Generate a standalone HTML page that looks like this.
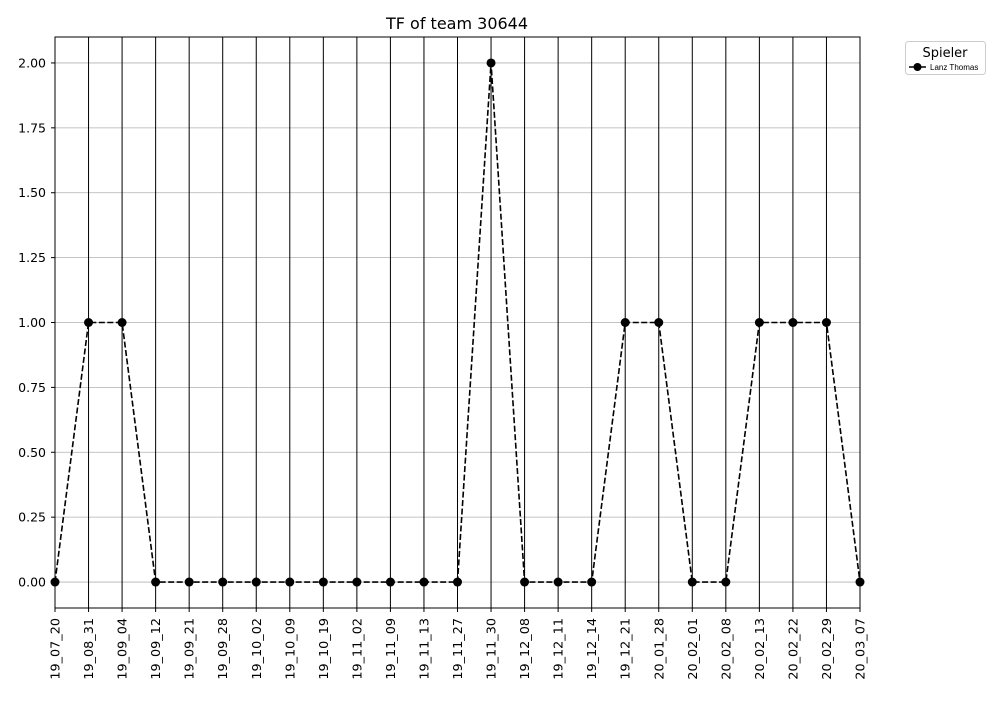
<!DOCTYPE html>
<html><head><meta charset="utf-8"><style>body{margin:0;background:#fff}svg{font-family:"DejaVu Sans","Liberation Sans",sans-serif}</style></head>
<body>
<svg id="c" width="1000" height="700" xmlns="http://www.w3.org/2000/svg"></svg>
<script>
const categories=["19_07_20","19_08_31","19_09_04","19_09_12","19_09_21","19_09_28","19_10_02","19_10_09","19_10_19","19_11_02","19_11_09","19_11_13","19_11_27","19_11_30","19_12_08","19_12_11","19_12_14","19_12_21","20_01_28","20_02_01","20_02_08","20_02_13","20_02_22","20_02_29","20_03_07"];
const values=[0,1,1,0,0,0,0,0,0,0,0,0,0,2,0,0,0,1,1,0,0,1,1,1,0];
const yTicks=[0,0.25,0.5,0.75,1,1.25,1.5,1.75,2];
const yTickLabels=["0.00","0.25","0.50","0.75","1.00","1.25","1.50","1.75","2.00"];
const L=55,R=860,T=37,B=608,ymin=-0.1,ymax=2.1;
const sx=i=>L+(R-L)*i/(categories.length-1);
const sy=v=>B-(v-ymin)/(ymax-ymin)*(B-T);
const s=document.getElementById('c');const NS='http://www.w3.org/2000/svg';
function mk(t,a,p){const e=document.createElementNS(NS,t);for(const k in a)e.setAttribute(k,a[k]);(p||s).appendChild(e);return e;}
let e;
e=mk('text',{x:457,y:29,'text-anchor':'middle','font-size':16});e.textContent='TF of team 30644';


yTicks.forEach((v,i)=>{
 e=mk('line',{x1:L,x2:R,y1:sy(v),y2:sy(v),stroke:'#b0b0b0','stroke-width':0.8});
 
 
 mk('line',{x1:L-4,x2:L,y1:sy(v),y2:sy(v),stroke:'#000'});
 e=mk('text',{x:L-9,y:sy(v)+4.5,'text-anchor':'end','font-size':12.5});e.textContent=yTickLabels[i];
 
 
});
categories.forEach((c,i)=>{
 e=mk('line',{x1:sx(i),x2:sx(i),y1:T,y2:B+4,stroke:'#000','stroke-width':1});
 
 
 e=mk('text',{transform:`translate(${sx(i)+4.5},${B+10}) rotate(-90)`,'text-anchor':'end','font-size':12.8});e.textContent=c;
 
 
});
e=mk('rect',{x:L,y:T,width:R-L,height:B-T,fill:'none',stroke:'#000','stroke-width':1});


e=mk('polyline',{points:values.map((v,i)=>sx(i)+','+sy(v)).join(' '),fill:'none',stroke:'#000','stroke-width':1.6,'stroke-dasharray':'6,2.5'});


values.forEach((v,i)=>{
 e=mk('circle',{cx:sx(i),cy:sy(v),r:4.5,fill:'#000'});
 
 
});
const g=mk('g',{});


mk('rect',{x:905.5,y:41.5,width:80,height:33,rx:3,fill:'#fff',stroke:'#ccc'},g);
e=mk('text',{x:945,y:57,'text-anchor':'middle','font-size':13},g);e.textContent='Spieler';
mk('line',{x1:909,x2:926,y1:67,y2:67,stroke:'#000','stroke-width':1.6},g);
mk('circle',{cx:917.5,cy:67,r:4,fill:'#000'},g);
e=mk('text',{x:930,y:70,'font-size':8,'font-family':'Liberation Sans Narrow, Liberation Sans, sans-serif'},g);e.textContent='Lanz Thomas';


</script>
</body></html>
